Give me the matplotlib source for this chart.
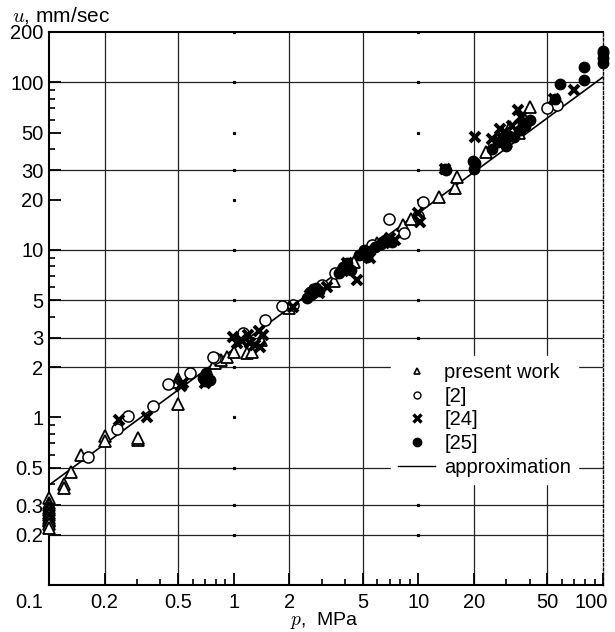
import matplotlib
matplotlib.use("Agg")
import matplotlib.pyplot as plt
import matplotlib.transforms as mtransforms
from matplotlib.lines import Line2D
import numpy as np

plt.rcParams["font.family"] = ["Liberation Sans", "DejaVu Sans"]
plt.rcParams["mathtext.fontset"] = "cm"

# ---- data (p in MPa, u in mm/sec)
present_p = [0.1, 0.1, 0.1, 0.1, 0.1, 0.1, 0.1, 0.1, 0.1, 0.1, 0.1, 0.1,
             0.12, 0.121, 0.131, 0.149, 0.2, 0.2, 0.302, 0.302, 0.5, 0.5, 0.5,
             0.79, 0.85, 0.92, 1.0, 1.18, 1.25, 1.4, 2.0, 2.7, 3.5, 4.5, 6.0,
             8.3, 9.1, 13.0, 15.8, 16.1, 23.2, 30, 31.2, 40.1, 38, 35]
present_u = [0.33, 0.31, 0.30, 0.29, 0.28, 0.27, 0.26, 0.25, 0.245, 0.24, 0.23, 0.22,
             0.40, 0.38, 0.47, 0.60, 0.77, 0.72, 0.73, 0.75, 1.21, 1.70, 1.62,
             2.1, 2.2, 2.3, 2.45, 2.42, 2.45, 2.9, 4.5, 5.8, 6.5, 8.5, 11,
             14, 15.4, 20.7, 23.3, 27.3, 38.2, 45, 54, 71, 60, 50]

ref2_p = [0.163, 0.232, 0.267, 0.367, 0.44, 0.58, 0.79, 0.77, 1.12, 1.48, 1.83,
          2.1, 3.53, 3.0, 5.6, 6.9, 8.4, 10.6, 10, 56, 50, 30]
ref2_u = [0.58, 0.85, 1.02, 1.17, 1.58, 1.83, 2.25, 2.3, 3.18, 3.8, 4.6,
          4.7, 7.24, 6.2, 10.7, 15.2, 12.6, 19.4, 16, 73, 70, 48]

ref24_p = [0.24, 0.338, 0.52, 0.53, 0.7, 0.72, 0.99, 1.04, 1.1, 1.2, 1.23, 1.3,
           1.37, 1.39, 1.45, 2.1, 2.6, 2.75, 2.9, 3.2, 3.9, 4.1, 4.64, 5.2, 5.5,
           6.5, 7.0, 7.5, 10.2, 10, 13.9, 20.3, 25, 27.7, 28, 30, 32, 34.5, 36,
           38, 54, 70]
ref24_u = [0.97, 1.0, 1.54, 1.6, 1.6, 1.72, 3.03, 2.8, 2.9, 3.1, 2.77, 2.7,
           3.3, 2.64, 3.1, 4.57, 5.4, 5.75, 5.5, 6.0, 7.5, 8.3, 6.6, 9.6, 9.0,
           11.0, 11.8, 11.5, 14.7, 16.5, 30.3, 47, 46, 53, 48, 50, 55, 68, 62,
           58, 80, 90]

ref25_p = [0.68, 0.70, 0.71, 0.72, 0.74, 2.5, 2.6, 2.7, 2.8, 2.9, 3.7, 3.9,
           4.1, 4.3, 4.8, 5.0, 5.1, 5.2, 5.3, 5.5, 5.8, 6.3, 6.6, 6.8, 7.2,
           13.9, 14.2, 19.7, 20, 20.3, 25, 27, 28.9, 30, 31, 33, 35.5, 37, 38,
           40, 55, 58.6, 79, 79, 100, 100, 100, 100]
ref25_u = [1.71, 1.65, 1.83, 1.75, 1.68, 5.2, 5.6, 5.5, 5.9, 5.7, 7.3, 7.9,
           8.3, 7.6, 9.3, 9.5, 10.0, 9.7, 9.1, 9.8, 10.4, 10.9, 11.4, 11.5, 11.2,
           30.3, 30.0, 34, 30.6, 32.9, 40, 44, 45, 42, 48, 47, 52, 57, 55,
           60, 80, 98, 104, 124, 130, 140, 150, 155]

# approximation u = A * p**n
fit_A = 2.56
fit_n = 0.812

x_ticks = [0.1, 0.2, 0.5, 1, 2, 5, 10, 20, 50, 100]
x_labels = ["0.1", "0.2", "0.5", "1", "2", "5", "10", "20", "50", "100"]
y_ticks = [0.2, 0.3, 0.5, 1, 2, 3, 5, 10, 20, 30, 50, 100, 200]
y_labels = ["0.2", "0.3", "0.5", "1", "2", "3", "5", "10", "20", "30", "50", "100", "200"]

x_grid = [0.2, 0.5, 2, 5, 20, 50]
y_grid = [0.2, 0.3, 0.5, 2, 3, 5, 10, 30, 100]
dot_cols = [1, 10]

fig = plt.figure(figsize=(6.15, 6.32), dpi=100)
ax = fig.add_axes([0.0797, 0.0744, 0.9008, 0.875])
ax.set_xscale("log")
ax.set_yscale("log")
ax.set_xlim(0.1, 100)
ax.set_ylim(0.1, 200)

gc = "#222222"
for xv in x_grid:
    ax.axvline(xv, color=gc, lw=0.9, zorder=1)
for yv in y_grid:
    ax.axhline(yv, color=gc, lw=0.9, zorder=1)
for xv in dot_cols:
    ax.plot([xv] * len(y_ticks), y_ticks, ls="none", marker="s", ms=1.3,
            color="black", zorder=1)

pp = np.array([0.1, 100])
ax.plot(pp, fit_A * pp ** fit_n, color="black", lw=1.2, zorder=2)

ax.plot(present_p, present_u, ls="none", marker="^", ms=8, mfc="white",
        mec="black", mew=1.3, zorder=3, clip_on=False)
ax.plot(ref2_p, ref2_u, ls="none", marker="o", ms=8, mfc="white",
        mec="black", mew=1.1, zorder=3)
ax.plot(ref24_p, ref24_u, ls="none", marker="x", ms=7.5, color="black",
        mew=2.8, zorder=4)
ax.plot(ref25_p, ref25_u, ls="none", marker="o", ms=7.5, color="black",
        zorder=4, clip_on=False)

# ticks
ax.set_xticks(x_ticks)
ax.set_xticklabels(x_labels)
ax.set_yticks(y_ticks)
ax.set_yticklabels(y_labels)
ax.xaxis.set_minor_locator(matplotlib.ticker.FixedLocator(
    [v * d for d in (0.1, 1, 10) for v in (3, 4, 6, 7, 8, 9)]))
ax.yaxis.set_minor_locator(matplotlib.ticker.FixedLocator(
    [v * d for d in (0.1, 1, 10) for v in (4, 6, 7, 8, 9)]))
ax.xaxis.set_minor_formatter(matplotlib.ticker.NullFormatter())
ax.yaxis.set_minor_formatter(matplotlib.ticker.NullFormatter())
ax.tick_params(which="major", direction="in", length=8.5, width=1.3,
               labelsize=14.5, top=False, right=False)
ax.tick_params(which="minor", direction="in", length=4.5, width=1.2,
               top=False, right=False)
ax.tick_params(axis="x", which="major", pad=6)
ax.tick_params(axis="y", which="major", pad=4)

lbls = ax.get_xticklabels()
lbls[0].set_transform(lbls[0].get_transform() +
                      mtransforms.ScaledTranslation(-0.2, 0, fig.dpi_scale_trans))
lbls[-1].set_transform(lbls[-1].get_transform() +
                       mtransforms.ScaledTranslation(-0.12, 0, fig.dpi_scale_trans))

for s in ("left", "bottom", "top"):
    ax.spines[s].set_linewidth(1.5)
ax.spines["right"].set_linewidth(1.0)
ax.spines["right"].set_linestyle((0, (2, 1.5)))

fig.text(0.02, 0.976, r"$u$, mm/sec", fontsize=15, va="center", ha="left")
fig.text(0.527, 0.018, r"$p$,  MPa", fontsize=14, va="center", ha="center")

handles = [
    Line2D([], [], ls="none", marker="^", ms=5, mfc="white", mec="black", mew=1.2),
    Line2D([], [], ls="none", marker="o", ms=5, mfc="white", mec="black", mew=1.0),
    Line2D([], [], ls="none", marker="x", ms=5.5, color="black", mew=2.4),
    Line2D([], [], ls="none", marker="o", ms=6, color="black"),
    Line2D([], [], color="black", lw=1.0),
]
names = ["present work", "[2]", "[24]", "[25]", "approximation"]
leg = ax.legend(handles, names, loc="upper left", bbox_to_anchor=(0.617, 0.414),
                fontsize=14.5, frameon=True, fancybox=False, framealpha=1,
                edgecolor="white", facecolor="white", handlelength=1.85,
                handletextpad=0.45, labelspacing=0.23, borderpad=0.35,
                borderaxespad=0)
leg.set_zorder(5)

fig.savefig("out.png", dpi=100)
